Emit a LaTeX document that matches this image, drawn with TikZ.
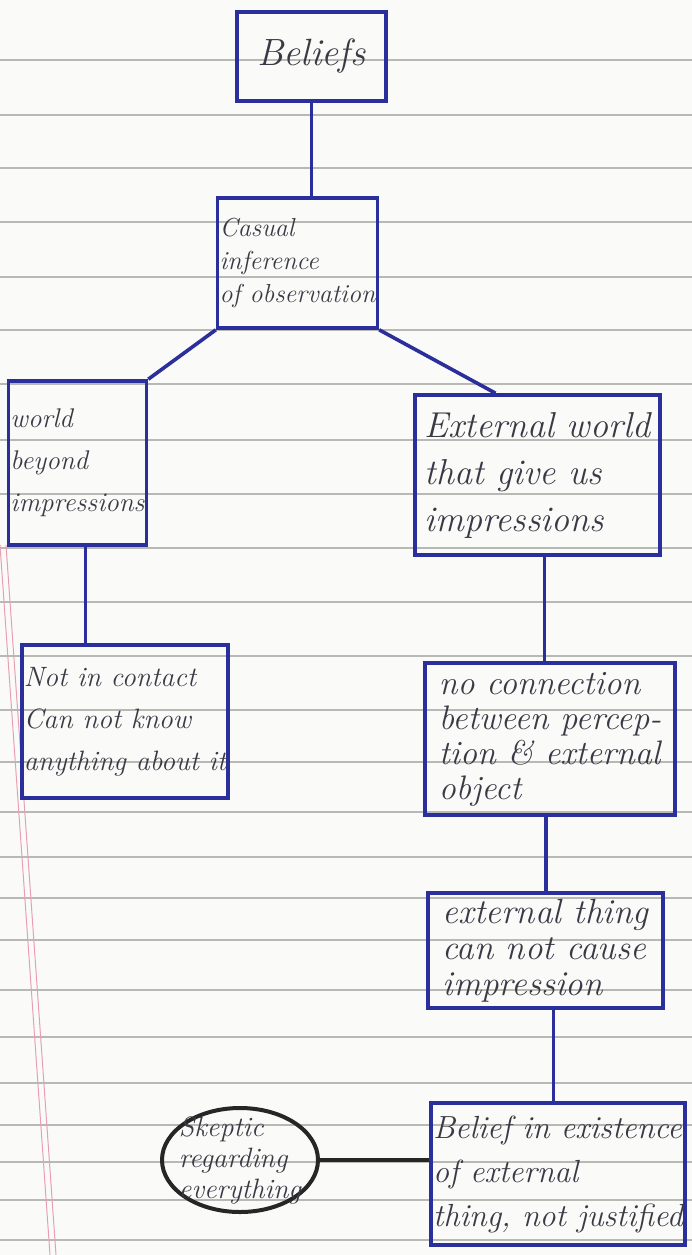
\documentclass[tikz,border=0pt]{standalone}
\usetikzlibrary{shapes.geometric,calc}
\definecolor{ink}{HTML}{2B2F9C}
\definecolor{pencil}{HTML}{3A3A46}
\definecolor{rule}{HTML}{B8B8B4}
\definecolor{margin}{HTML}{E8A0B0}
\definecolor{paper}{HTML}{FAFAF8}
\begin{document}
\begin{tikzpicture}[x=1pt,y=-1pt,
  box/.style={draw=ink,line width=3.6pt,rectangle,inner sep=2pt,align=left,text=pencil},
  link/.style={draw=ink,line width=3.6pt},
  blink/.style={draw=black!85,line width=4pt},
  ruled/.style={draw=rule,line width=1.3pt}]
\fill[paper] (0,0) rectangle (692,1255);
\useasboundingbox (0,0) rectangle (692,1255);
% ruled paper
\foreach \yy in {60,115,168,222,277,330,384,440,494,548,602,656,710,762,812,857,898,940,990,1037,1083,1125,1162,1200,1240}
  \draw[ruled] (0,\yy) -- (692,\yy);
\draw[margin,line width=1pt] (0,545) -- (50,1255);
\draw[margin,line width=1pt] (6,545) -- (56,1255);
% nodes
\node[box,minimum width=149pt,minimum height=89pt,align=center,font=\fontsize{38}{40}\selectfont\itshape] (beliefs) at (311.5,56.5) {Beliefs};
\node[box,minimum width=155pt,minimum height=130pt,font=\fontsize{26}{33}\selectfont\itshape] (casual) at (297.5,263) {Casual\\inference\\of observation};
\node[box,minimum width=135pt,minimum height=164pt,font=\fontsize{27}{42}\selectfont\itshape] (world) at (77.5,463) {world\\beyond\\impressions};
\node[box,minimum width=245pt,minimum height=160pt,font=\fontsize{36}{47}\selectfont\itshape] (ext) at (537.5,475) {External world\\that give us\\impressions};
\node[box,minimum width=206pt,minimum height=153pt,font=\fontsize{28}{42}\selectfont\itshape] (notin) at (125,721.5) {Not in contact\\Can not know\\anything about it};
\node[box,minimum width=250pt,minimum height=152pt,font=\fontsize{34}{35}\selectfont\itshape] (noconn) at (550,739) {no connection\\between percep-\\tion \& external\\object};
\node[box,minimum width=235pt,minimum height=115pt,font=\fontsize{35}{36}\selectfont\itshape] (extthing) at (545.5,950.5) {external thing\\can not cause\\impression};
\node[box,minimum width=250pt,minimum height=142pt,font=\fontsize{32}{44}\selectfont\itshape] (belief2) at (558,1174) {Belief in existence\\of external\\thing, not justified};
\node[ellipse,draw=black!85,line width=4pt,minimum width=156pt,minimum height=104pt,inner sep=-12pt,align=left,text=pencil,font=\fontsize{28}{31}\selectfont\itshape] (skeptic) at (240,1160) {Skeptic\\regarding\\everything};
% connectors
\draw[link] (beliefs.south) -- (beliefs.south |- casual.north);
\draw[link] (casual.south west) -- (world.north east);
\draw[link] (casual.south east) -- ([xshift=-42pt]ext.north);
\draw[link] ([xshift=8pt]world.south) -- ([xshift=8pt]world.south |- notin.north);
\draw[link] ([xshift=7pt]ext.south) -- ([xshift=7pt]ext.south |- noconn.north);
\draw[link] ([xshift=-4pt]noconn.south) -- ([xshift=-4pt]noconn.south |- extthing.north);
\draw[link] ([xshift=8pt]extthing.south) -- ([xshift=8pt]extthing.south |- belief2.north);
\draw[blink] (skeptic.east) -- (skeptic.east -| belief2.west);
\end{tikzpicture}
\end{document}
